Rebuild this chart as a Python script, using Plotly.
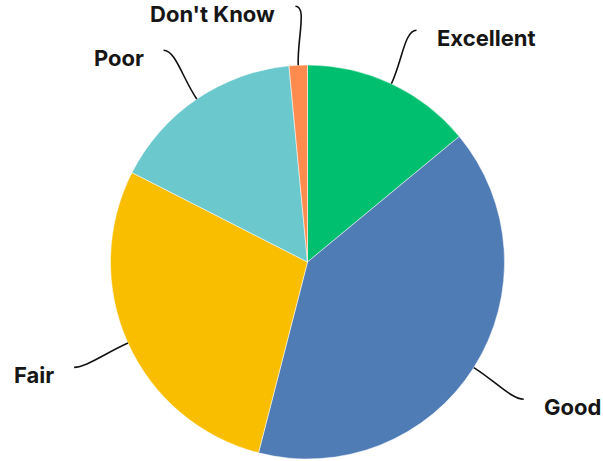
import math
import plotly.graph_objects as go

labels = ["Excellent", "Good", "Fair", "Poor", "Don't Know"]
values = [14.0, 40.0, 28.5, 16.0, 1.5]
colors = ["#00BF6F", "#507CB6", "#F9BE00", "#6BC8CD", "#FF8B4F"]

W, H = 603, 461
CX, CY, R = 307.5, 262.0, 197.0

fig = go.Figure(go.Pie(
    labels=labels, values=values, sort=False, direction="clockwise", rotation=0,
    marker=dict(colors=colors, line=dict(color="white", width=0.5)),
    textinfo="none", hoverinfo="label+percent", showlegend=False,
    domain=dict(x=[(CX - R) / W, (CX + R) / W], y=[(H - CY - R) / H, (H - CY + R) / H]),
))

def px(x, y):
    return x / W, 1 - y / H

shapes, annots = [], []
total = sum(values)
cum = 0.0
for lab, v in zip(labels, values):
    mid = (cum + v / 2) / total * 2 * math.pi
    cum += v
    sx, sy = math.sin(mid), -math.cos(mid)
    p0 = (CX + R * sx, CY + R * sy)
    p3 = (CX + 1.3 * R * sx, CY + 1.3 * R * sy)
    d = 1 if sx > 0.05 else -1
    p1 = (CX + 1.13 * R * sx, CY + 1.13 * R * sy)
    p2 = (p3[0] - d * 12, p3[1])
    pts = [px(*p) for p in (p0, p1, p2, p3)]
    path = "M {:.5f},{:.5f} C {:.5f},{:.5f} {:.5f},{:.5f} {:.5f},{:.5f}".format(
        *pts[0], *pts[1], *pts[2], *pts[3])
    shapes.append(dict(type="path", path=path, xref="paper", yref="paper",
                       line=dict(color="#111111", width=1.6)))
    ax, ay = px(p3[0] + d * 18, p3[1] + 8)
    annots.append(dict(x=ax, y=ay, xref="paper", yref="paper", text=lab,
                       showarrow=False, xanchor="left" if d > 0 else "right",
                       yanchor="middle",
                       font=dict(family="Inter, Roboto, sans-serif", size=22,
                                 color="#161616", weight="bold")))

fig.update_layout(width=W, height=H, margin=dict(l=0, r=0, t=0, b=0),
                  paper_bgcolor="white", plot_bgcolor="white",
                  shapes=shapes, annotations=annots)
fig.write_html("out.html", config={"displayModeBar": False},
               post_script="document.body.style.margin='0';")
